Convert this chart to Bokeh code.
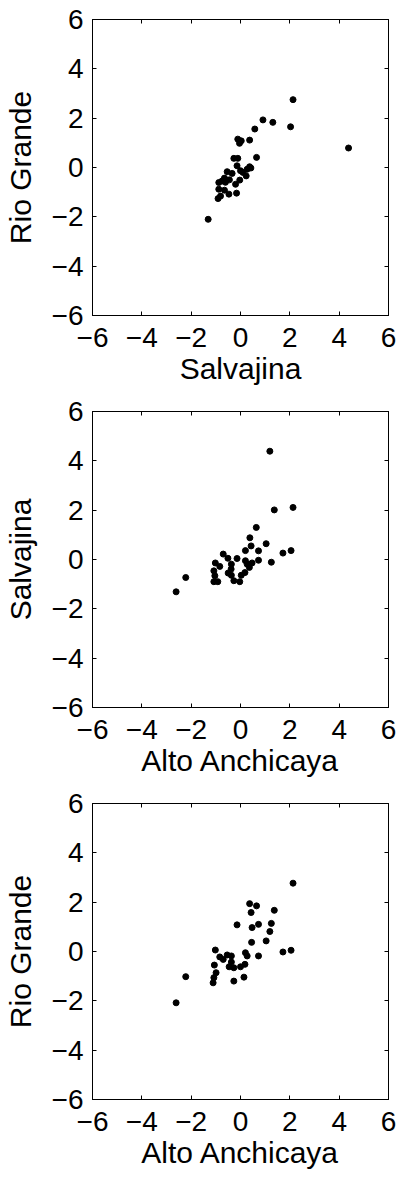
from bokeh.plotting import figure
from bokeh.layouts import column
from bokeh.models import FixedTicker, LinearAxis, Range1d
from bokeh.embed import file_html
from bokeh.resources import INLINE

# Panel 1: Salvajina (x) vs Rio Grande (y)
salvajina_1 = [2.13, 0.91, 1.31, 2.03, 0.58, 4.38, -0.11, 0.03, -0.04, 0.37,
               -0.27, -0.11, 0.65, -0.14, 0.37, 0.27, 0.0, -0.54, -0.34, 0.23,
               -0.03, -0.65, -0.61, -0.88, -0.2, -0.88, -0.65, -0.47, -0.16,
               -0.91, -0.81, -1.31, -0.45, 0.1, -0.75, 0.42]
riogrande_1 = [2.75, 1.93, 1.83, 1.65, 1.56, 0.79, 1.15, 1.08, 0.98, 1.11,
               0.37, 0.37, 0.41, 0.07, 0.03, -0.07, -0.13, -0.17, -0.24, -0.34,
               -0.51, -0.43, -0.6, -0.61, -0.68, -0.88, -0.92, -1.08, -1.04,
               -1.26, -1.16, -2.1, -0.5, -0.2, -0.55, -0.02]

# Panel 2: Alto Anchicaya (x) vs Salvajina (y)
anchicaya_2 = [1.19, 1.37, 2.13, 0.64, 0.38, 0.43, 1.04, 0.20, 0.73, 1.72,
               2.05, -0.70, -0.51, -0.14, 0.73, 1.25, 0.20, -1.02, -0.84, -0.37,
               0.27, 0.47, 0.36, -0.38, -1.08, -0.50, -0.37, 0.18, 0.03, -1.04,
               -2.22, -1.08, -0.92, -0.27, -0.03, -2.61]
salvajina_2 = [4.39, 2.01, 2.11, 1.30, 0.88, 0.55, 0.64, 0.36, 0.35, 0.26,
               0.36, 0.22, 0.05, 0.04, -0.03, -0.11, -0.05, -0.14, -0.28, -0.19,
               -0.19, -0.14, -0.32, -0.39, -0.46, -0.55, -0.64, -0.53, -0.64, -0.66,
               -0.73, -0.90, -0.90, -0.86, -0.90, -1.31]

# Panel 3: Alto Anchicaya (x) vs Rio Grande (y)
anchicaya_3 = [2.13, 0.37, 0.65, 1.37, 0.43, -0.14, 0.73, 1.25, 0.47, 1.19,
               1.04, 0.45, -1.02, 1.72, 2.05, 0.20, -0.54, -0.37, -0.84, -0.70,
               0.27, 0.73, -0.37, -1.06, -0.46, 0.00, 0.18, -0.27, -0.99, -2.22,
               0.14, -1.08, -1.11, -0.27, -2.61]
riogrande_3 = [2.77, 1.94, 1.85, 1.67, 1.58, 1.08, 1.10, 1.14, 0.97, 0.81,
               0.43, 0.37, 0.06, -0.02, 0.05, -0.05, -0.14, -0.18, -0.22, -0.32,
               -0.18, -0.18, -0.43, -0.55, -0.62, -0.62, -0.52, -0.66, -0.86, -1.02,
               -1.04, -1.06, -1.27, -1.20, -2.08]

ticks = [-6, -4, -2, 0, 2, 4, 6]
tick_labels = ["\u22126", "\u22124", "\u22122", "0", "2", "4", "6"]

FONT = "Liberation Sans"


def make_panel(x, y, xlabel, ylabel, height, top):
    p = figure(width=398, height=height, output_backend="svg", toolbar_location=None,
               x_range=Range1d(-6, 6), y_range=Range1d(-6, 6),
               min_border_left=92, min_border_right=10, min_border_top=top,
               min_border_bottom=81, x_axis_location=None, y_axis_location=None)
    p.grid.visible = False
    p.outline_line_color = "black"
    p.outline_line_width = 1
    overrides = {t: l for t, l in zip(ticks, tick_labels)}

    def axis(side, labelled, label=None, lab_standoff=2, tick_standoff=9):
        ax = LinearAxis(ticker=FixedTicker(ticks=ticks))
        ax.major_tick_in = 4
        ax.major_tick_out = 0
        ax.minor_tick_line_color = None
        ax.axis_line_color = "black"
        ax.major_tick_line_color = "black"
        if labelled:
            ax.major_label_overrides = overrides
            ax.major_label_text_font = FONT
            ax.major_label_text_font_size = "28px"
            ax.major_label_text_color = "black"
            ax.major_label_standoff = tick_standoff
            ax.axis_label = label
            ax.axis_label_text_font = FONT
            ax.axis_label_text_font_size = "30px"
            ax.axis_label_text_font_style = "normal"
            ax.axis_label_text_color = "black"
            ax.axis_label_standoff = lab_standoff
        else:
            ax.major_label_text_font_size = "0px"
            ax.major_label_text_alpha = 0
            ax.major_label_standoff = 0
        p.add_layout(ax, side)

    axis("below", True, xlabel, lab_standoff=2, tick_standoff=12)
    axis("left", True, ylabel, lab_standoff=12, tick_standoff=9)
    axis("above", False)
    axis("right", False)
    p.scatter(x, y, size=6, color="black")
    return p


p1 = make_panel(salvajina_1, riogrande_1, "Salvajina", "Rio Grande", 396, 19)
p2 = make_panel(anchicaya_2, salvajina_2, "Alto Anchicaya", "Salvajina", 392, 15)
p3 = make_panel(anchicaya_3, riogrande_3, "Alto Anchicaya", "Rio Grande", 392, 15)

layout = column(p1, p2, p3, spacing=0)
open("out.html", "w").write(file_html(layout, INLINE))
